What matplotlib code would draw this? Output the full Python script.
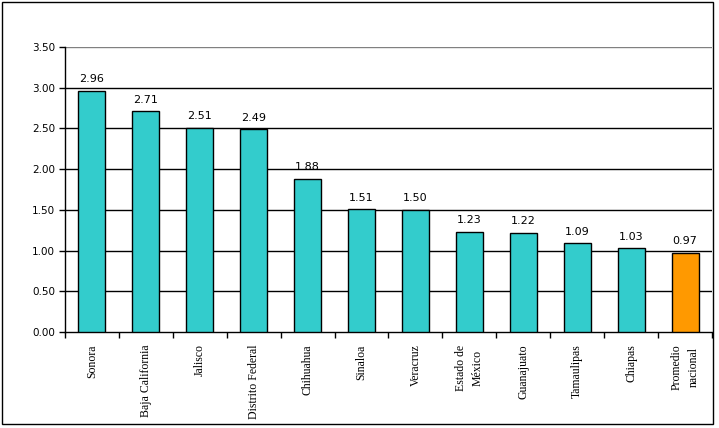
import numpy as np
import matplotlib.pyplot as plt
from matplotlib.patches import Rectangle

estados = ["Sonora", "Baja California", "Jalisco", "Distrito Federal", "Chihuahua",
           "Sinaloa", "Veracruz", "Estado de\nMéxico", "Guanajuato", "Tamaulipas",
           "Chiapas", "Promedio\nnacional"]
valores = [2.96, 2.71, 2.51, 2.49, 1.88, 1.51, 1.50, 1.23, 1.22, 1.09, 1.03, 0.97]
yticks = [0.0, 0.5, 1.0, 1.5, 2.0, 2.5, 3.0, 3.5]

colores = ["#33CCCC"] * (len(valores) - 1) + ["#FF9900"]

fig = plt.figure(figsize=(7.19, 4.28), dpi=100)
ax = fig.add_axes([65 / 719, 1 - 332 / 428, (712 - 65) / 719, (332 - 47) / 428])

x = np.arange(len(valores))
ax.bar(x, valores, width=0.5, color=colores, edgecolor="black", linewidth=1, zorder=3)

for xi, v in zip(x, valores):
    ax.text(xi, v + 0.08, f"{v:.2f}", ha="center", va="bottom",
            fontsize=8, family="DejaVu Sans")

ax.set_xlim(-0.5, len(valores) - 0.5)
ax.set_ylim(0, 3.5)
ax.set_yticks(yticks)
ax.set_yticklabels([f"{t:.2f}" for t in yticks], fontsize=7.5, family="DejaVu Sans")
for t in yticks[1:-1]:
    ax.axhline(t, color="black", linewidth=1, zorder=1)
ax.axhline(3.5, color="#808080", linewidth=1, zorder=1)

ax.set_xticks(x)
ax.set_xticklabels(estados, rotation=90, fontsize=8.5, family="Liberation Serif",
                   va="top", ha="center", multialignment="center", linespacing=1.6)
ax.set_xticks(np.arange(len(valores) + 1) - 0.5, minor=True)
ax.tick_params(axis="x", which="major", length=0, pad=9)
ax.tick_params(axis="x", which="minor", length=4, width=1, color="black")
ax.tick_params(axis="y", length=4, width=1, pad=3)

for s in ["top", "right"]:
    ax.spines[s].set_visible(False)
ax.spines["left"].set_linewidth(1)
ax.spines["bottom"].set_linewidth(1)

fig.patches.append(Rectangle((2 / 719, 1 - 424 / 428), 711 / 719, 422 / 428,
                             transform=fig.transFigure, fill=False,
                             edgecolor="black", linewidth=1))

fig.savefig("out.png", dpi=100)
